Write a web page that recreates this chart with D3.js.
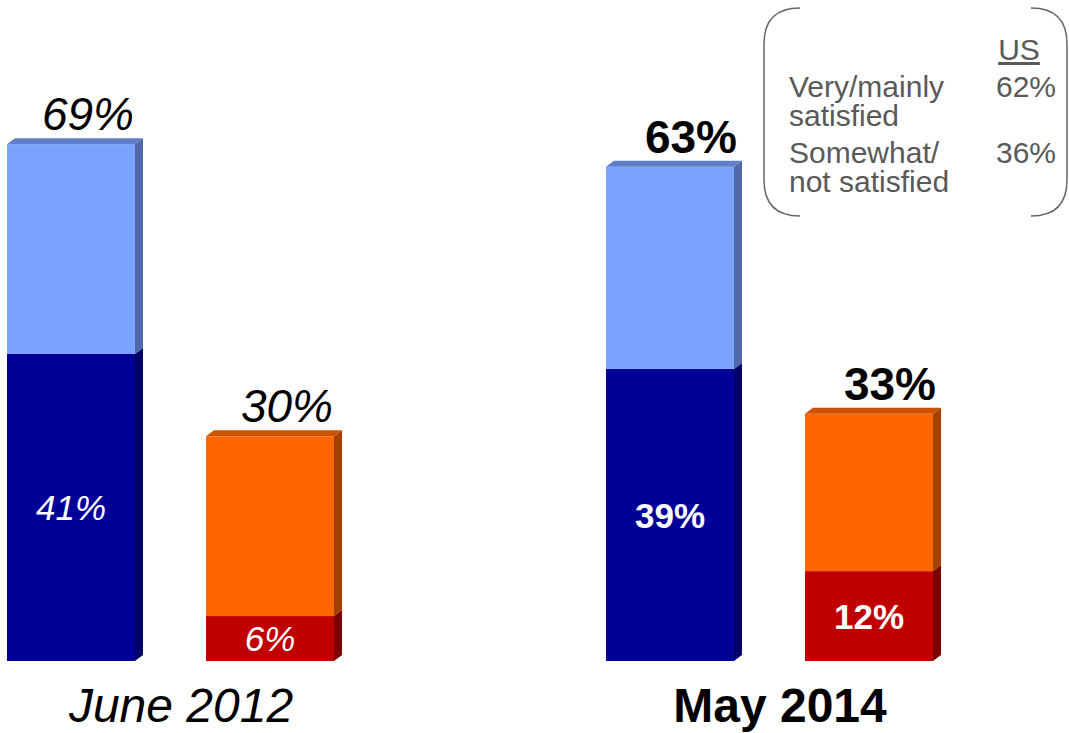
<!DOCTYPE html>
<html>
<head>
<meta charset="utf-8">
<script src="https://cdn.jsdelivr.net/npm/d3@7"></script>
<style>
  body { margin: 0; background: #fff; }
  svg { display: block; font-family: Arial, "Liberation Sans", sans-serif; }
</style>
</head>
<body>
<div class="canvas"></div>
<script>
// data
const groups = ['June 2012', 'May 2014'];
const mainlySatisfied = [41, 39];      // dark blue segment
const otherSatisfied = [28, 27];       // light blue segment, as drawn
const satisfiedLabels = ['69%', '63%'];
const notSatisfied = [6, 12];          // red segment
const somewhatSatisfied = [24, 21];    // orange segment
const notSatisfiedLabels = ['30%', '33%'];
const usLabels = [['Very/mainly', 'satisfied'], ['Somewhat/', 'not satisfied']];
const usValues = ['62%', '36%'];

const width = 1069, height = 733;
const baseline = 661;
const depth = { dx: 8, dy: 6 };

// style per group (first group italic, second bold)
const groupStyle = [
  { style: 'italic', weight: 'normal', shift: -4 },
  { style: 'normal', weight: 'bold', shift: 0 }
];

const colors = {
  mainly: { front: '#000099', side: '#000066', top: '#1a1a80' },
  other: { front: '#79a3ff', side: '#4f69a8', top: '#5f80c8' },
  somewhat: { front: '#ff6600', side: '#a34100', top: '#cc5200' },
  not: { front: '#c00000', side: '#7a0000', top: '#990000' }
};

const svg = d3.select('.canvas')
  .append('svg')
   .attr('width', width)
   .attr('height', height);

//scales
const x0 = d3.scaleBand()
  .domain(groups)
  .range([7, 7 + 599 * 2]);

const x1 = d3.scaleBand()
  .domain(['sat', 'dis'])
  .range([0, 327])
  .paddingInner(0.357)
  .paddingOuter(0);

const y = d3.scaleLinear()
  .domain([0, 100])
  .range([baseline, baseline - 749]);

//build stacked segments
const segments = [];
groups.forEach((g, i) => {
  segments.push({ g, sub: 'sat', y0: 0, y1: mainlySatisfied[i], c: colors.mainly, top: false });
  segments.push({ g, sub: 'sat', y0: mainlySatisfied[i], y1: mainlySatisfied[i] + otherSatisfied[i], c: colors.other, top: true });
  segments.push({ g, sub: 'dis', y0: 0, y1: notSatisfied[i], c: colors.not, top: false });
  segments.push({ g, sub: 'dis', y0: notSatisfied[i], y1: notSatisfied[i] + somewhatSatisfied[i], c: colors.somewhat, top: true });
});

const bw = x1.bandwidth();
const bars = svg.append('g');

const seg = bars.selectAll('g.seg')
  .data(segments)
  .enter()
  .append('g')
   .attr('class', 'seg');

seg.append('rect')
  .attr('x', d => x0(d.g) + x1(d.sub))
  .attr('y', d => y(d.y1))
  .attr('width', bw)
  .attr('height', d => y(d.y0) - y(d.y1))
  .attr('fill', d => d.c.front);

//right-hand side face
seg.append('path')
  .attr('fill', d => d.c.side)
  .attr('d', d => {
    const xr = x0(d.g) + x1(d.sub) + bw;
    const yt = y(d.y1), yb = y(d.y0);
    return `M${xr},${yt} L${xr + depth.dx},${yt - depth.dy} L${xr + depth.dx},${yb - depth.dy} L${xr},${yb} Z`;
  });

//top face on the upper segments
seg.filter(d => d.top)
  .append('path')
  .attr('fill', d => d.c.top)
  .attr('d', d => {
    const xl = x0(d.g) + x1(d.sub);
    const yt = y(d.y1);
    return `M${xl},${yt} L${xl + depth.dx},${yt - depth.dy} L${xl + bw + depth.dx},${yt - depth.dy} L${xl + bw},${yt} Z`;
  });

//labels inside lower segments
const inner = groups.flatMap((g, i) => [
  { g, i, sub: 'sat', v: mainlySatisfied[i] },
  { g, i, sub: 'dis', v: notSatisfied[i] }
]);

svg.selectAll('text.inner')
  .data(inner)
  .enter()
  .append('text')
   .attr('class', 'inner')
   .attr('x', d => x0(d.g) + x1(d.sub) + bw / 2)
   .attr('y', d => (y(0) + y(d.v)) / 2)
   .attr('dy', '0.36em')
   .attr('text-anchor', 'middle')
   .attr('fill', '#fff')
   .style('font-size', '35px')
   .style('font-style', d => groupStyle[d.i].style)
   .style('font-weight', d => groupStyle[d.i].weight)
   .text(d => d.v + '%');

//total labels above bars
const totals = groups.flatMap((g, i) => [
  { g, i, sub: 'sat', top: mainlySatisfied[i] + otherSatisfied[i], label: satisfiedLabels[i] },
  { g, i, sub: 'dis', top: notSatisfied[i] + somewhatSatisfied[i], label: notSatisfiedLabels[i] }
]);

svg.selectAll('text.total')
  .data(totals)
  .enter()
  .append('text')
   .attr('class', 'total')
   .attr('x', d => x0(d.g) + x1(d.sub) + bw + 3 + groupStyle[d.i].shift)
   .attr('y', d => y(d.top) - 14)
   .attr('text-anchor', 'end')
   .attr('fill', '#000')
   .style('font-size', '46px')
   .style('font-style', d => groupStyle[d.i].style)
   .style('font-weight', d => groupStyle[d.i].weight)
   .text(d => d.label);

//group labels along the bottom
svg.selectAll('text.group')
  .data(groups)
  .enter()
  .append('text')
   .attr('class', 'group')
   .attr('x', d => x0(d) + 174)
   .attr('y', 722)
   .attr('text-anchor', 'middle')
   .attr('fill', '#000')
   .style('font-size', '48px')
   .style('font-style', (d, i) => groupStyle[i].style)
   .style('font-weight', (d, i) => groupStyle[i].weight)
   .text(d => d);

//US comparison box
const box = svg.append('g');
const bl = 764, br = 1067, bt = 8, bb = 216, r = 36;
box.append('path')
  .attr('fill', 'none')
  .attr('stroke', '#666')
  .attr('stroke-width', 1.5)
  .attr('d', `M${bl + r},${bt} Q${bl},${bt} ${bl},${bt + r} L${bl},${bb - r} Q${bl},${bb} ${bl + r},${bb}`);
box.append('path')
  .attr('fill', 'none')
  .attr('stroke', '#666')
  .attr('stroke-width', 1.5)
  .attr('d', `M${br - r},${bt} Q${br},${bt} ${br},${bt + r} L${br},${bb - r} Q${br},${bb} ${br - r},${bb}`);

box.append('text')
  .attr('x', 1019)
  .attr('y', 60)
  .attr('text-anchor', 'middle')
  .attr('fill', '#595959')
  .style('font-size', '30px')
  .style('text-decoration', 'underline')
  .text('US');

const rowY = [97, 163];
usLabels.forEach((lines, i) => {
  lines.forEach((line, j) => {
    box.append('text')
      .attr('x', 789)
      .attr('y', rowY[i] + j * 28.5)
      .attr('fill', '#595959')
      .style('font-size', '30px')
      .text(line);
  });
  box.append('text')
    .attr('x', 1056)
    .attr('y', rowY[i])
    .attr('text-anchor', 'end')
    .attr('fill', '#595959')
    .style('font-size', '30px')
    .text(usValues[i]);
});
</script>
</body>
</html>
